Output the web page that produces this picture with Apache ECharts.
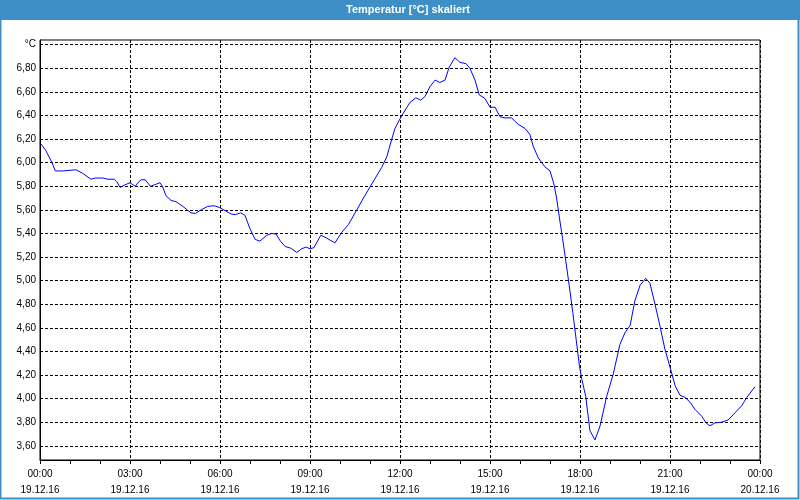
<!DOCTYPE html>
<html>
<head>
<meta charset="utf-8">
<script src="https://cdn.jsdelivr.net/npm/echarts@6/dist/echarts.min.js"></script>
<style>
html,body{margin:0;padding:0;background:#fff;}
#chart{width:800px;height:500px;}
</style>
</head>
<body>
<div id="chart"></div>
<script>
const title = 'Temperatur [°C] skaliert';
const unitLabel = '°C';
// time in hours since 19.12.16 00:00
const hours = [0.03,0.2,0.4,0.51,0.76,0.81,1.2,1.42,1.7,1.84,2.09,2.14,2.26,2.48,2.56,2.67,2.81,3.0,3.18,3.26,3.37,3.51,3.68,3.84,4.0,4.09,4.2,4.37,4.53,4.76,5.03,5.18,5.37,5.59,5.81,5.98,6.2,6.37,6.51,6.69,6.83,7.0,7.17,7.33,7.56,7.72,7.87,8.0,8.17,8.36,8.56,8.72,8.87,9.0,9.13,9.36,9.56,9.83,10.06,10.28,10.56,10.78,11.06,11.39,11.56,11.67,11.83,12.06,12.33,12.53,12.69,12.83,13.0,13.17,13.33,13.5,13.64,13.83,14.0,14.2,14.33,14.5,14.64,14.83,15.0,15.17,15.33,15.5,15.72,15.94,16.17,16.33,16.44,16.61,16.83,17.0,17.13,17.22,17.31,17.42,17.53,17.64,17.76,17.87,17.98,18.06,18.19,18.33,18.5,18.67,18.89,19.11,19.33,19.5,19.67,19.83,20.0,20.19,20.33,20.5,20.67,20.83,21.02,21.17,21.33,21.5,21.67,21.83,22.06,22.2,22.33,22.5,22.72,22.94,23.11,23.39,23.56,23.83];
const temps = [6.16,6.10,6.00,5.93,5.93,5.94,5.94,5.91,5.86,5.87,5.87,5.855,5.86,5.86,5.84,5.79,5.81,5.83,5.80,5.83,5.855,5.855,5.80,5.815,5.83,5.795,5.72,5.68,5.67,5.63,5.575,5.57,5.60,5.63,5.635,5.62,5.59,5.565,5.56,5.575,5.555,5.44,5.35,5.335,5.385,5.40,5.395,5.34,5.29,5.275,5.24,5.27,5.285,5.27,5.28,5.385,5.36,5.32,5.41,5.475,5.60,5.70,5.82,5.96,6.05,6.15,6.29,6.40,6.51,6.55,6.53,6.56,6.645,6.70,6.68,6.70,6.81,6.89,6.85,6.84,6.80,6.70,6.575,6.545,6.47,6.47,6.39,6.38,6.38,6.325,6.29,6.24,6.14,6.04,5.965,5.93,5.82,5.70,5.54,5.355,5.16,4.96,4.73,4.505,4.28,4.165,4.02,3.73,3.65,3.77,4.02,4.21,4.46,4.56,4.62,4.83,4.96,5.02,4.98,4.80,4.61,4.42,4.25,4.11,4.03,4.01,3.97,3.91,3.85,3.795,3.77,3.795,3.80,3.82,3.865,3.94,4.01,4.10];
const yTicks = [3.6,3.8,4.0,4.2,4.4,4.6,4.8,5.0,5.2,5.4,5.6,5.8,6.0,6.2,6.4,6.6,6.8,7.0];
const xTickHours = [0,3,6,9,12,15,18,21,24];
const xTickLabels = ['00:00\n19.12.16','03:00\n19.12.16','06:00\n19.12.16','09:00\n19.12.16','12:00\n19.12.16','15:00\n19.12.16','18:00\n19.12.16','21:00\n19.12.16','00:00\n20.12.16'];

const FONT = 'Liberation Sans';
const chart = echarts.init(document.getElementById('chart'), null, {renderer:'canvas'});
const dashed = {color:'#000', width:1, type:[3,2]};

chart.setOption({
  animation:false,
  backgroundColor:'#ffffff',
  graphic:[
    {type:'rect', shape:{x:0,y:0,width:800,height:20}, style:{fill:'#3d8fc6'}, z:100},
    {type:'rect', shape:{x:0.5,y:0.5,width:798,height:498}, style:{fill:null, stroke:'#3d8fc6', lineWidth:2}, z:100},
    {type:'text', x:408, y:10, style:{text:title, fill:'#ffffff', font:'bold 11px "'+FONT+'"', textAlign:'center', textVerticalAlign:'middle'}, z:101}
  ],
  grid:{left:40, right:40, top:40, bottom:40, show:true, borderColor:'#000', borderWidth:1, backgroundColor:'transparent'},
  xAxis:{
    type:'value', min:0, max:24, interval:3,
    axisLine:{show:true, lineStyle:{color:'#000', width:1}},
    axisTick:{show:true, length:4, lineStyle:{color:'#000'}},
    minorTick:{show:true, splitNumber:3, length:4, lineStyle:{color:'#000'}},
    splitLine:{show:true, lineStyle:dashed},
    axisLabel:{
      color:'#000', fontFamily:FONT, fontSize:10, lineHeight:16, margin:6,
      formatter:function(v){ const i = xTickHours.indexOf(v); return i>=0 ? xTickLabels[i] : ''; }
    }
  },
  yAxis:{
    type:'value', min:3.48, max:7.04,
    axisLine:{show:true, lineStyle:{color:'#000', width:1}},
    axisTick:{show:false, customValues:yTicks},
    splitLine:{show:false},
    axisLabel:{
      color:'#000', fontFamily:FONT, fontSize:10, margin:4,
      customValues:yTicks,
      formatter:function(v){ return Math.abs(v-7.0)<1e-6 ? unitLabel : v.toFixed(2).replace('.', ','); }
    }
  },
  series:[
    {
      type:'line', data:[], z:1,
      markLine:{
        silent:true, symbol:'none', z:1, animation:false,
        label:{show:false},
        lineStyle:dashed,
        data:yTicks.map(v=>({yAxis:v}))
      }
    },
    {
      type:'line', z:5,
      data:hours.map((h,i)=>[h,temps[i]]),
      showSymbol:false, symbol:'none', smooth:false,
      lineStyle:{color:'#0000ff', width:1},
      emphasis:{disabled:true}
    }
  ]
});
</script>
</body>
</html>
